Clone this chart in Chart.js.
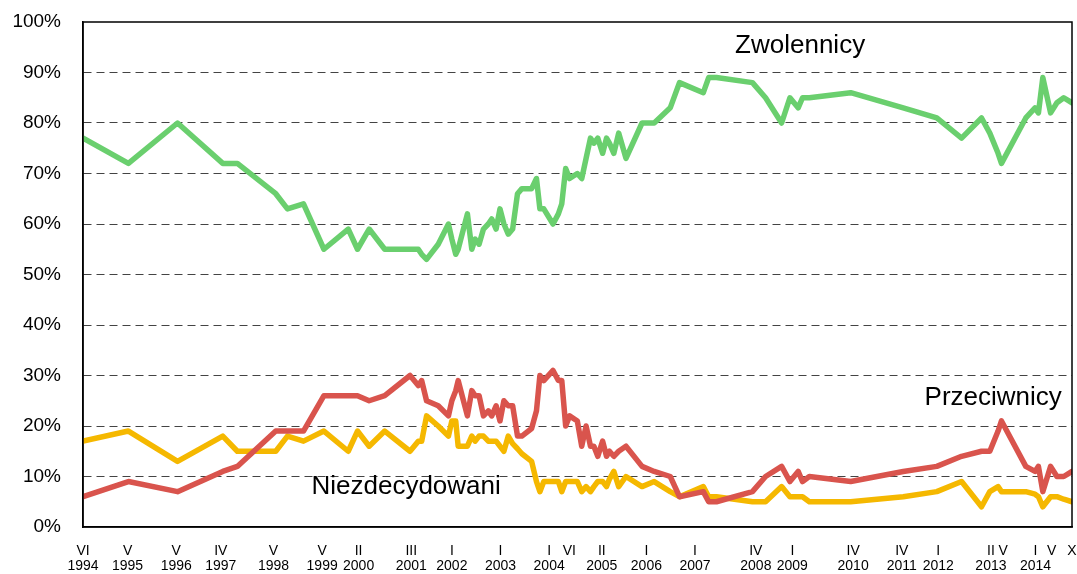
<!DOCTYPE html>
<html>
<head>
<meta charset="utf-8">
<script src="https://cdn.jsdelivr.net/npm/chart.js@4/dist/chart.umd.min.js"></script>
<style>
  body { margin: 0; background: #fff; }
  #wrap { width: 1077px; height: 574px; }
</style>
</head>
<body>
<div id="wrap"><canvas id="poll"></canvas></div>
<script>
// survey dates as decimal years
let dates = [
  1994.42, 1995.35, 1996.36, 1997.29, 1997.59, 1998.38, 1998.62, 1998.95, 1999.37, 1999.87,
  2000.06, 2000.30, 2000.62, 2001.14, 2001.31, 2001.38, 2001.48, 2001.72, 2001.93, 2002.00,
  2002.08, 2002.13, 2002.32, 2002.41, 2002.48, 2002.56, 2002.65, 2002.75, 2002.82, 2002.91,
  2002.99, 2003.07, 2003.16, 2003.25, 2003.35, 2003.44, 2003.64, 2003.74, 2003.81, 2003.89,
  2004.08, 2004.19, 2004.26, 2004.34, 2004.42, 2004.58, 2004.67, 2004.76, 2004.85, 2004.92,
  2005.00, 2005.10, 2005.18, 2005.24, 2005.33, 2005.43, 2005.58, 2005.91, 2006.16, 2006.49,
  2006.68, 2007.17, 2007.28, 2007.44, 2008.18, 2008.45, 2008.78, 2008.95, 2009.12, 2009.21,
  2009.35, 2010.20, 2011.28, 2011.97, 2012.48, 2012.89, 2013.06, 2013.23, 2013.30, 2013.80,
  2013.99, 2014.06, 2014.15, 2014.31, 2014.44, 2014.58, 2014.75
];

let zwolennicy = [
  77, 72, 80, 72, 72, 66, 63, 64, 55, 59,
  55, 59, 55, 55, 55, 54, 53, 56, 60, 57,
  54, 55, 62, 55, 57, 56, 59, 60, 61, 59,
  63, 60, 58, 59, 66, 67, 67, 69, 63, 63,
  60, 62, 64, 71, 69, 70, 69, 73, 77, 76,
  77, 74, 77, 76, 74, 78, 73, 80, 80, 83,
  88, 86, 89, 89, 88, 85, 80, 85, 83, 85,
  85, 86, 83, 81, 77, 81, 78, 74, 72, 81,
  83, 82, 89, 82, 84, 85, 84
];

let przeciwnicy = [
  6, 9, 7, 11, 12, 19, 19, 19, 26, 26,
  26, 25, 26, 30, 28, 29, 25, 24, 22, 25,
  27, 29, 22, 27, 26, 26, 22, 23, 22, 24,
  21, 25, 24, 24, 18, 18, 19.5, 23, 30, 29,
  31, 29, 29, 20, 22, 21, 16, 20, 16, 16,
  14, 17, 14, 15, 14, 15, 16, 12, 11, 10,
  6, 7, 5, 5, 7, 10, 12, 9, 11, 9,
  10, 9, 11, 12, 14, 15, 15, 19, 21, 12,
  11, 12, 7, 12, 10, 10, 11
];

let niezdecydowani = [
  17, 19, 13, 18, 15, 15, 18, 17, 19, 15,
  19, 16, 19, 15, 17, 17, 22, 20, 18, 21,
  21, 16, 16, 18, 17, 18, 18, 17, 17, 17,
  16, 15, 18, 16.5, 15.5, 14.5, 13, 9, 7, 9,
  9, 9, 7, 9, 9, 9, 7, 8, 7, 8,
  9, 9, 8, 9.5, 11, 8, 10, 8, 9, 7,
  6, 8, 6, 6, 5, 5, 8, 6, 6, 6,
  5, 5, 6, 7, 9, 4, 7, 8, 7, 7,
  6.5, 6, 4, 6, 6, 5.5, 5
];

// x axis ticks: month (roman) and year
let tickMonths = ['VI', 'V', 'V', 'IV', 'V', 'V', 'II', 'III', 'I', 'I', 'I', 'VI', 'II', 'I', 'I', 'IV', 'I', 'IV', 'IV', 'I', 'II', 'V', 'I', 'V', 'X'];
let tickMonthNums = [6, 5, 5, 4, 5, 5, 2, 3, 1, 1, 1, 6, 2, 1, 1, 4, 1, 4, 4, 1, 2, 5, 1, 5, 10];
let tickYears = [1994, 1995, 1996, 1997, 1998, 1999, 2000, 2001, 2002, 2003, 2004, 2004, 2005, 2006, 2007, 2008, 2009, 2010, 2011, 2012, 2013, 2013, 2014, 2014, 2014];
let tickShowYear = [1, 1, 1, 1, 1, 1, 1, 1, 1, 1, 1, 0, 1, 1, 1, 1, 1, 1, 1, 1, 1, 0, 1, 0, 0];

let tickPos = tickYears.map((y, i) => y + (tickMonthNums[i] - 1) / 12);

let seriesNames = ['Zwolennicy', 'Przeciwnicy', 'Niezdecydowani'];
let seriesLabelX = [2009.16, 2013.13, 2001.06];
let seriesLabelY = [95.2, 25.5, 7.9];

const FONT = "'Liberation Sans', Arial, sans-serif";

function pts(vals) {
  return vals.map((v, i) => ({ x: dates[i], y: v }));
}

const frameAndLabels = {
  id: 'frameAndLabels',
  afterDatasetsDraw(chart) {
    const { ctx, chartArea: a, scales } = chart;
    ctx.save();
    ctx.strokeStyle = '#000';
    ctx.lineWidth = 1.5;
    ctx.strokeRect(a.left, a.top, a.right - a.left, a.bottom - a.top);
    ctx.fillStyle = '#000';
    ctx.font = '26px ' + FONT;
    ctx.textAlign = 'center';
    ctx.textBaseline = 'middle';
    seriesNames.forEach((n, i) => {
      ctx.fillText(n, scales.x.getPixelForValue(seriesLabelX[i]), scales.y.getPixelForValue(seriesLabelY[i]));
    });
    ctx.restore();
  }
};

let lineStyle = {
  pointRadius: 0,
  borderWidth: 5.5,
  tension: 0,
  borderJoinStyle: 'round',
  borderCapStyle: 'round',
  fill: false
};

new Chart('poll', {
  type: 'line',
  data: {
    datasets: [
      Object.assign({ label: seriesNames[0], data: pts(zwolennicy), borderColor: '#6ACF6E' }, lineStyle),
      Object.assign({ label: seriesNames[1], data: pts(przeciwnicy), borderColor: '#D9544D' }, lineStyle),
      Object.assign({ label: seriesNames[2], data: pts(niezdecydowani), borderColor: '#F5B800' }, lineStyle)
    ]
  },
  options: {
    responsive: true,
    maintainAspectRatio: false,
    animation: false,
    layout: { padding: { top: 22, right: 5, left: 0, bottom: 0 } },
    plugins: { legend: { display: false }, tooltip: { enabled: false } },
    scales: {
      x: {
        type: 'linear',
        min: 1994 + 5 / 12,
        max: 2014 + 9 / 12,
        afterBuildTicks: (s) => { s.ticks = tickPos.map(v => ({ value: v })); },
        afterFit: (s) => { s.height = 47; s.paddingLeft = 0; s.paddingRight = 0; },
        grid: { display: false, drawTicks: false },
        border: { display: true, color: '#000', width: 1.5 },
        ticks: {
          autoSkip: false,
          maxRotation: 0,
          minRotation: 0,
          padding: 16,
          color: '#000',
          font: { family: FONT, size: 14, lineHeight: 1.1 },
          callback: (v, i) => [tickMonths[i], tickShowYear[i] ? String(tickYears[i]) : '']
        }
      },
      y: {
        min: 0,
        max: 100,
        afterFit: (s) => { s.width = 83; s.paddingTop = 0; s.paddingBottom = 0; },
        border: { display: true, color: '#000', width: 1.5, dash: [8, 5] },
        grid: {
          drawTicks: false,
          lineWidth: 1,
          color: (c) => (c.tick && (c.tick.value === 0 || c.tick.value === 100)) ? 'rgba(0,0,0,0)' : '#444'
        },
        ticks: {
          stepSize: 10,
          padding: 22,
          color: '#000',
          font: { family: FONT, size: 19 },
          callback: (v) => v + '%'
        }
      }
    }
  },
  plugins: [frameAndLabels]
});
</script>
</body>
</html>
